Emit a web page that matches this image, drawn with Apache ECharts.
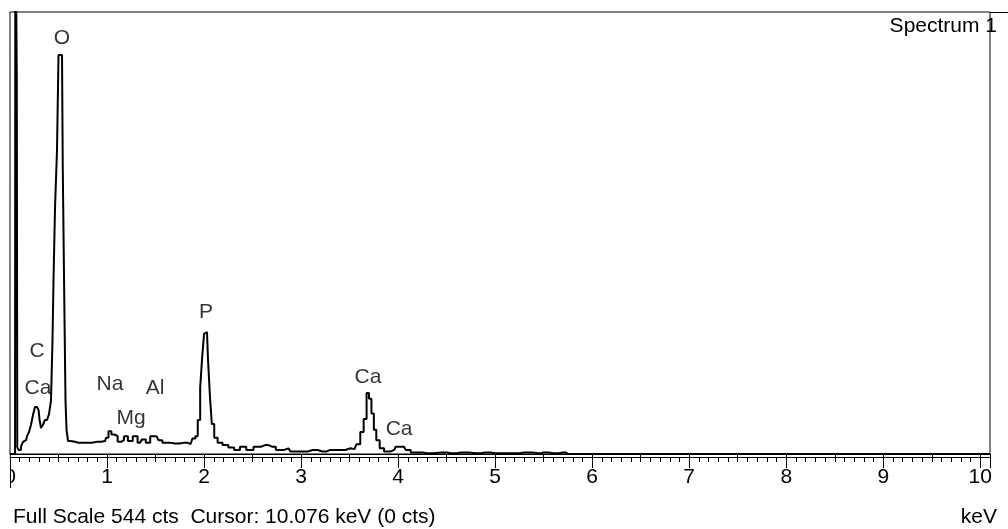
<!DOCTYPE html>
<html>
<head>
<meta charset="utf-8">
<script src="https://cdn.jsdelivr.net/npm/echarts@6/dist/echarts.min.js"></script>
<style>
  html, body { margin: 0; padding: 0; background: #fff; }
  #spectrum { width: 1008px; height: 529px; }
</style>
</head>
<body>
<div id="spectrum"></div>
<script>
// EDS spectrum, energy in keV and counts per channel
var spectrumKeV = [
  0, 0.052, 0.058, 0.068, 0.072, 0.078,
  0.103, 0.124, 0.144, 0.165, 0.186, 0.206, 0.227, 0.247, 0.268, 0.289,
  0.30, 0.309, 0.33, 0.35, 0.371, 0.392, 0.412, 0.433, 0.443, 0.454,
  0.474, 0.495, 0.505, 0.536, 0.552, 0.567, 0.577, 0.588, 0.608, 0.64,
  0.70, 0.80, 0.90, 0.98, 1.00, 1.03, 1.06, 1.09, 1.13, 1.16,
  1.19, 1.24, 1.29, 1.34, 1.38, 1.42, 1.47, 1.51, 1.55, 1.59,
  1.70, 1.80, 1.86, 1.90, 1.92, 1.95, 1.97, 1.99, 2.01, 2.03,
  2.05, 2.07, 2.09, 2.12, 2.16, 2.22, 2.28, 2.34, 2.40, 2.47,
  2.55, 2.63, 2.70, 2.78, 2.87, 2.91, 3.02, 3.12, 3.22, 3.30,
  3.40, 3.51, 3.55, 3.59, 3.63, 3.66, 3.69, 3.71, 3.74, 3.76,
  3.79, 3.83, 3.88, 3.96, 3.99, 4.06, 4.10, 4.16, 4.20, 4.30,
  4.45, 4.55, 4.65, 4.80, 4.90, 5.00, 5.20, 5.30, 5.45, 5.50,
  5.60, 5.70, 5.75, 10.1
];
var spectrumCts = [
  0, 0, 700, 700, 460, 8,
  5, 9, 15, 17, 22, 27, 36, 48, 58, 60,
  54, 42, 32, 36, 42, 44, 49, 66, 140, 214,
  303, 374, 491, 491, 350, 190, 66, 30, 16, 15,
  14, 14, 15, 16, 20, 28, 24, 22, 15, 17,
  22, 16, 22, 14, 18, 14, 22, 22, 17, 14,
  13, 14, 12, 19, 22, 42, 82, 118, 148, 150,
  118, 72, 37, 20, 14, 11, 8, 5, 9, 5,
  9, 11, 9, 5, 7, 3, 3, 5, 3, 5,
  5, 7, 6, 12, 27, 43, 75, 68, 50, 30,
  17, 7, 3, 5, 9, 9, 5, 2, 2, 1,
  2, 1, 2, 1, 2, 1, 1, 2, 1, 2,
  1, 2, 0, 0
];

// peak labels: element, line energy (keV), height of label (cts)
var peakNames    = ['O', 'C', 'Ca', 'Na', 'Mg', 'Al', 'P', 'Ca', 'Ca'];
var peakKeV      = [0.536, 0.278, 0.289, 1.031, 1.247, 1.495, 2.02, 3.69, 4.01];
var peakLabelCts = [512, 126, 81, 86, 44, 81, 174, 94, 30];

var fullScale = 544;
var keVMax = 10.1;
var keVTicks = [0, 1, 2, 3, 4, 5, 6, 7, 8, 9, 10];

var FONT = '"Liberation Sans", Arial, sans-serif';
var FS = 21;

var spectrumChart = echarts.init(document.getElementById('spectrum'));

var lineData = [];
for (var i = 0; i < spectrumKeV.length; i++) {
  lineData.push([spectrumKeV[i], spectrumCts[i]]);
}
var labelData = [];
for (var j = 0; j < peakNames.length; j++) {
  labelData.push({ value: [peakKeV[j], peakLabelCts[j]], name: peakNames[j] });
}

var tickStyle = { color: '#000', width: 1 };
var txt = { fontSize: FS, fontWeight: 'normal', color: '#000', fontFamily: FONT };

var option = {
  animation: false,
  backgroundColor: '#fff',
  textStyle: { fontFamily: FONT },
  title: [
    { text: 'Full Scale ' + fullScale + ' cts  Cursor: 10.076 keV (0 cts)', left: 8, top: 502, textStyle: txt },
    { text: 'keV', right: 6, top: 502, textStyle: txt },
    { text: 'Spectrum 1', right: 6, top: 11, textStyle: txt }
  ],
  grid: {
    left: 10, right: 18, top: 12, bottom: 75,
    show: true, borderColor: '#000', borderWidth: 1, backgroundColor: 'transparent'
  },
  xAxis: [
    {
      type: 'value', min: 0, max: keVMax, interval: 1,
      axisLine: { show: true, onZero: false, lineStyle: tickStyle },
      axisTick: { show: false }, axisLabel: { show: false }, splitLine: { show: false }
    },
    {
      type: 'value', min: 0, max: keVMax, interval: 1, position: 'bottom', offset: 3,
      axisLine: { show: true, onZero: false, lineStyle: tickStyle },
      axisTick: { show: true, length: 11, lineStyle: tickStyle },
      minorTick: { show: true, splitNumber: 10, length: 5, lineStyle: tickStyle },
      axisLabel: {
        show: true, margin: 10, fontSize: FS, color: '#000', fontFamily: FONT,
        showMaxLabel: false,
        formatter: function(v) { return keVTicks.indexOf(v) >= 0 ? String(v) : ''; }
      },
      splitLine: { show: false }
    },
    {
      type: 'value', min: 0, max: keVMax, interval: 0.5, position: 'bottom', offset: 3,
      axisLine: { show: false },
      axisTick: { show: true, length: 8, lineStyle: tickStyle },
      axisLabel: { show: false }, splitLine: { show: false }
    }
  ],
  yAxis: {
    type: 'value', min: 0, max: fullScale, show: false,
    splitLine: { show: false }
  },
  graphic: [
    // the 0 label is cut by the left edge of the frame
    { type: 'rect', z: 100, shape: { x: 0, y: 462, width: 10, height: 34 }, style: { fill: '#fff' } },
    { type: 'line', z: 101, shape: { x1: 990, y1: 12.5, x2: 1008, y2: 12.5 }, style: { stroke: '#000', lineWidth: 1 } },
    { type: 'line', z: 101, shape: { x1: 10.5, y1: 454, x2: 10.5, y2: 488 }, style: { stroke: '#000', lineWidth: 1 } }
  ],
  series: [
    {
      type: 'line',
      data: lineData,
      step: 'middle',
      showSymbol: false,
      clip: true,
      lineStyle: { color: '#000', width: 2 },
      z: 3
    },
    {
      type: 'scatter',
      data: labelData,
      symbolSize: 0,
      silent: true,
      label: {
        show: true, position: 'inside', formatter: '{b}',
        fontSize: FS, color: '#000', fontFamily: FONT,
        textBorderWidth: 0
      },
      z: 4
    }
  ]
};

spectrumChart.setOption(option);
</script>
</body>
</html>
